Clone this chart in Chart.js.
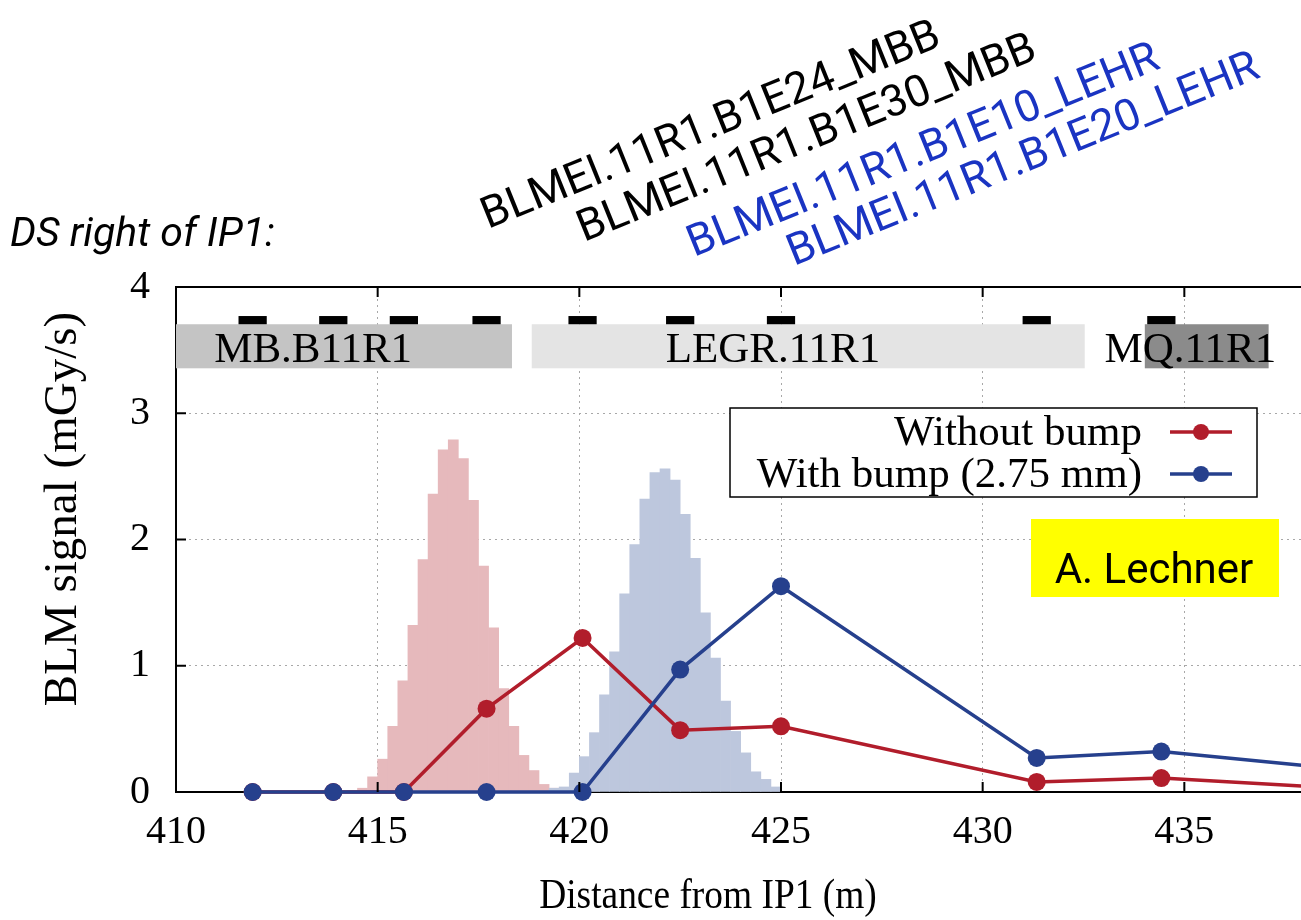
<!DOCTYPE html>
<html lang="en">
<head>
  <meta charset="UTF-8">
  <meta name="viewport" content="width=device-width, initial-scale=1.0">
  <title>BLM signal, DS right of IP1</title>
  <script src="https://cdn.jsdelivr.net/npm/chart.js"></script>
  <style>
    html, body { margin: 0; padding: 0; background: #fff; overflow: hidden; }
    body { width: 1301px; height: 920px; position: relative; }
    #wrap { position: absolute; left: 0; top: 0; width: 1500px; height: 920px; }
  </style>
</head>
<body>
  <div id="wrap"><canvas id="myChart" width="1500" height="920"></canvas></div>

  <script>
    // BLM positions along the beam line (m) and the measured signals (mGy/s)
    const blmPositions = [411.9, 413.9, 415.65, 417.7, 420.08, 422.5, 425.0, 431.34, 434.43, 440.5];
    const withoutBump = [0, 0, 0, 0.66, 1.22, 0.49, 0.52, 0.08, 0.11, 0];
    const withBump = [0, 0, 0, 0, 0, 0.97, 1.63, 0.27, 0.32, 0.13];

    // loss distributions, lower bin edges (m) and heights
    const binWidth = 0.25;
    const redBinEdges = [414.25, 414.5, 414.75, 415.0, 415.25, 415.5, 415.75, 416.0, 416.25, 416.5, 416.75,
      417.0, 417.25, 417.5, 417.75, 418.0, 418.25, 418.5, 418.75, 419.0, 419.25];
    const redBinValues = [0.01, 0.03, 0.12, 0.26, 0.52, 0.88, 1.32, 1.84, 2.36, 2.71, 2.79,
      2.64, 2.31, 1.79, 1.30, 0.82, 0.52, 0.29, 0.17, 0.06, 0.03];
    const blueBinEdges = [419.25, 419.5, 419.75, 420.0, 420.25, 420.5, 420.75, 421.0, 421.25, 421.5, 421.75,
      422.0, 422.25, 422.5, 422.75, 423.0, 423.25, 423.5, 423.75, 424.0, 424.25, 424.5, 424.75];
    const blueBinValues = [0.03, 0.04, 0.15, 0.28, 0.47, 0.77, 1.11, 1.57, 1.96, 2.32, 2.53,
      2.56, 2.47, 2.20, 1.85, 1.42, 1.06, 0.72, 0.48, 0.31, 0.16, 0.10, 0.04];

    // magnet / element layout along the line (m)
    const elementNames = ['MB.B11R1', 'LEGR.11R1', 'MQ.11R1'];
    const elementStart = [408.47, 418.82, 434.02];
    const elementEnd = [418.33, 432.53, 437.09];
    const elementLabelAt = [413.4, 424.8, 435.15];

    const seriesLabels = ['Without bump', 'With bump (2.75 mm)'];
    const xTicks = [410, 415, 420, 425, 430, 435, 440];
    const yTicks = [0, 1, 2, 3, 4];

    const blmNames = ['BLMEI.11R1.B1E24_MBB', 'BLMEI.11R1.B1E30_MBB', 'BLMEI.11R1.B1E10_LEHR', 'BLMEI.11R1.B1E20_LEHR'];

    const RED = '#b11d2b';
    const BLUE = '#26408d';
    const SERIF = '"Liberation Serif", "Times New Roman", serif';
    const SANS = 'Roboto, "Open Sans", sans-serif';
    const elementColors = ['#c4c4c4', '#e4e4e4', '#8b8b8b'];

    const toPoints = (xs, ys) => xs.map((x, i) => ({x: x, y: ys[i]}));
    const toBins = (edges, vals) => edges.map((e, i) => ({x: e + binWidth / 2, y: vals[i]}));

    // element boxes, their names and the small BLM markers above them
    const beamline = {
      id: 'beamline',
      beforeDatasetsDraw(chart) {
        const {ctx, chartArea: a, scales: {x, y}} = chart;
        ctx.save();
        ctx.beginPath();
        ctx.rect(a.left, a.top, a.right - a.left, a.bottom - a.top);
        ctx.clip();
        const yTop = y.getPixelForValue(3.705), yBot = y.getPixelForValue(3.356);
        elementNames.forEach((name, i) => {
          const x0 = x.getPixelForValue(elementStart[i]);
          const x1 = x.getPixelForValue(elementEnd[i]);
          ctx.fillStyle = elementColors[i];
          ctx.fillRect(x0, yTop, x1 - x0, yBot - yTop);
        });
        ctx.fillStyle = '#000';
        ctx.font = '43px ' + SERIF;
        ctx.textAlign = 'center';
        ctx.textBaseline = 'alphabetic';
        elementNames.forEach((name, i) => {
          ctx.fillText(name, x.getPixelForValue(elementLabelAt[i]), yBot - 6);
        });
        const dTop = y.getPixelForValue(3.77);
        blmPositions.forEach(p => {
          const x0 = x.getPixelForValue(p - 0.35), x1 = x.getPixelForValue(p + 0.35);
          ctx.fillRect(x0, dTop, x1 - x0, yTop - dTop);
        });
        ctx.restore();
      }
    };

    // closed frame on top plus inward tick marks
    const frameTicks = {
      id: 'frameTicks',
      afterDatasetsDraw(chart) {
        const {ctx, chartArea: a, scales: {x, y}} = chart;
        ctx.save();
        ctx.strokeStyle = '#000';
        ctx.lineWidth = 2;
        ctx.beginPath();
        ctx.moveTo(a.left, a.top);
        ctx.lineTo(a.right, a.top);
        x.ticks.forEach(t => {
          const px = x.getPixelForValue(t.value);
          ctx.moveTo(px, a.bottom); ctx.lineTo(px, a.bottom - 10);
          ctx.moveTo(px, a.top); ctx.lineTo(px, a.top + 10);
        });
        y.ticks.forEach(t => {
          const py = y.getPixelForValue(t.value);
          ctx.moveTo(a.left, py); ctx.lineTo(a.left + 10, py);
        });
        ctx.stroke();
        ctx.restore();
      }
    };

    // gnuplot-like key: text on the left, sample on the right
    const keyBox = {
      id: 'keyBox',
      afterDatasetsDraw(chart) {
        const {ctx} = chart;
        const box = {left: 730, top: 408, right: 1257, bottom: 497};
        ctx.save();
        ctx.fillStyle = '#fff';
        ctx.fillRect(box.left, box.top, box.right - box.left, box.bottom - box.top);
        ctx.strokeStyle = '#000';
        ctx.lineWidth = 1.5;
        ctx.strokeRect(box.left, box.top, box.right - box.left, box.bottom - box.top);
        ctx.font = '43px ' + SERIF;
        ctx.textAlign = 'right';
        ctx.textBaseline = 'alphabetic';
        [RED, BLUE].forEach((col, i) => {
          const base = 445 + i * 42;
          ctx.fillStyle = '#000';
          ctx.fillText(seriesLabels[i], 1142, base);
          const ly = base - 13;
          ctx.strokeStyle = col;
          ctx.lineWidth = 3.5;
          ctx.beginPath();
          ctx.moveTo(1170, ly); ctx.lineTo(1232, ly);
          ctx.stroke();
          ctx.fillStyle = col;
          ctx.beginPath();
          ctx.arc(1201, ly, 8, 0, Math.PI * 2);
          ctx.fill();
        });
        ctx.restore();
      }
    };

    // axis titles and the notes around the plot
    const notes = {
      id: 'notes',
      afterDraw(chart) {
        const {ctx} = chart;
        ctx.save();
        ctx.fillStyle = '#000';
        ctx.textBaseline = 'alphabetic';
        ctx.textAlign = 'center';
        ctx.save();
        ctx.translate(708, 908);
        ctx.scale(0.87, 1);
        ctx.font = '43px ' + SERIF;
        ctx.fillText('Distance from IP1 (m)', 0, 0);
        ctx.restore();
        ctx.save();
        ctx.translate(76, 509);
        ctx.rotate(-Math.PI / 2);
        ctx.font = '47px ' + SERIF;
        ctx.fillText('BLM signal (mGy/s)', 0, 0);
        ctx.restore();

        ctx.textAlign = 'left';
        ctx.font = 'italic 41px ' + SANS;
        ctx.fillText('DS right of IP1:', 10, 246);

        const starts = [[488, 229], [584, 242], [694, 257], [794, 266]];
        const cols = ['#000', '#000', '#1a34c2', '#1a34c2'];
        ctx.font = '44px ' + SANS;
        blmNames.forEach((name, i) => {
          ctx.save();
          ctx.translate(starts[i][0], starts[i][1]);
          ctx.rotate(-22 * Math.PI / 180);
          ctx.fillStyle = cols[i];
          ctx.fillText(name, 0, 0);
          ctx.restore();
        });

        ctx.fillStyle = '#ffff00';
        ctx.fillRect(1031, 519, 248, 78);
        ctx.fillStyle = '#000';
        ctx.font = '42px ' + SANS;
        ctx.textAlign = 'center';
        ctx.fillText('A. Lechner', 1154, 583);
        ctx.restore();
      }
    };

    const ctx = document.getElementById('myChart');

    new Chart(ctx, {
      type: 'line',
      data: {
        datasets: [
          {
            label: seriesLabels[1],
            data: toPoints(blmPositions, withBump),
            borderColor: BLUE,
            backgroundColor: BLUE,
            borderWidth: 3.5,
            pointRadius: 9,
            pointBorderWidth: 0,
            clip: false,
            order: 0
          },
          {
            label: seriesLabels[0],
            data: toPoints(blmPositions, withoutBump),
            borderColor: RED,
            backgroundColor: RED,
            borderWidth: 3.5,
            pointRadius: 9,
            pointBorderWidth: 0,
            clip: false,
            order: 1
          },
          {
            type: 'bar',
            label: 'loss map with bump',
            data: toBins(blueBinEdges, blueBinValues),
            backgroundColor: '#bdc7dd',
            borderWidth: 0,
            grouped: false,
            barPercentage: 1,
            categoryPercentage: 1,
            order: 2
          },
          {
            type: 'bar',
            label: 'loss map without bump',
            data: toBins(redBinEdges, redBinValues),
            backgroundColor: '#e6b9bc',
            borderWidth: 0,
            grouped: false,
            barPercentage: 1,
            categoryPercentage: 1,
            order: 3
          }
        ]
      },
      options: {
        responsive: false,
        animation: false,
        layout: {padding: {left: 0, top: 287, right: 114, bottom: 0}},
        plugins: {
          legend: {display: false},
          tooltip: {enabled: false}
        },
        scales: {
          x: {
            type: 'linear',
            min: xTicks[0],
            max: xTicks[xTicks.length - 1],
            offset: false,
            afterBuildTicks: s => { s.ticks = xTicks.map(v => ({value: v})); },
            afterFit: s => { s.height = 128; },
            ticks: {color: '#000', font: {family: SERIF, size: 40}, padding: 16, maxRotation: 0},
            grid: {color: '#a8a8a8', lineWidth: 1, drawTicks: false, offset: false},
            border: {display: true, color: '#000', width: 2, dash: [2, 4]}
          },
          y: {
            min: yTicks[0],
            max: yTicks[yTicks.length - 1],
            afterBuildTicks: s => { s.ticks = yTicks.map(v => ({value: v})); },
            afterFit: s => { s.width = 176; },
            ticks: {color: '#000', font: {family: SERIF, size: 40}, padding: 26},
            grid: {color: '#a8a8a8', lineWidth: 1, drawTicks: false},
            border: {display: true, color: '#000', width: 2, dash: [2, 4]}
          }
        }
      },
      plugins: [beamline, frameTicks, keyBox, notes]
    });
  </script>
</body>
</html>
